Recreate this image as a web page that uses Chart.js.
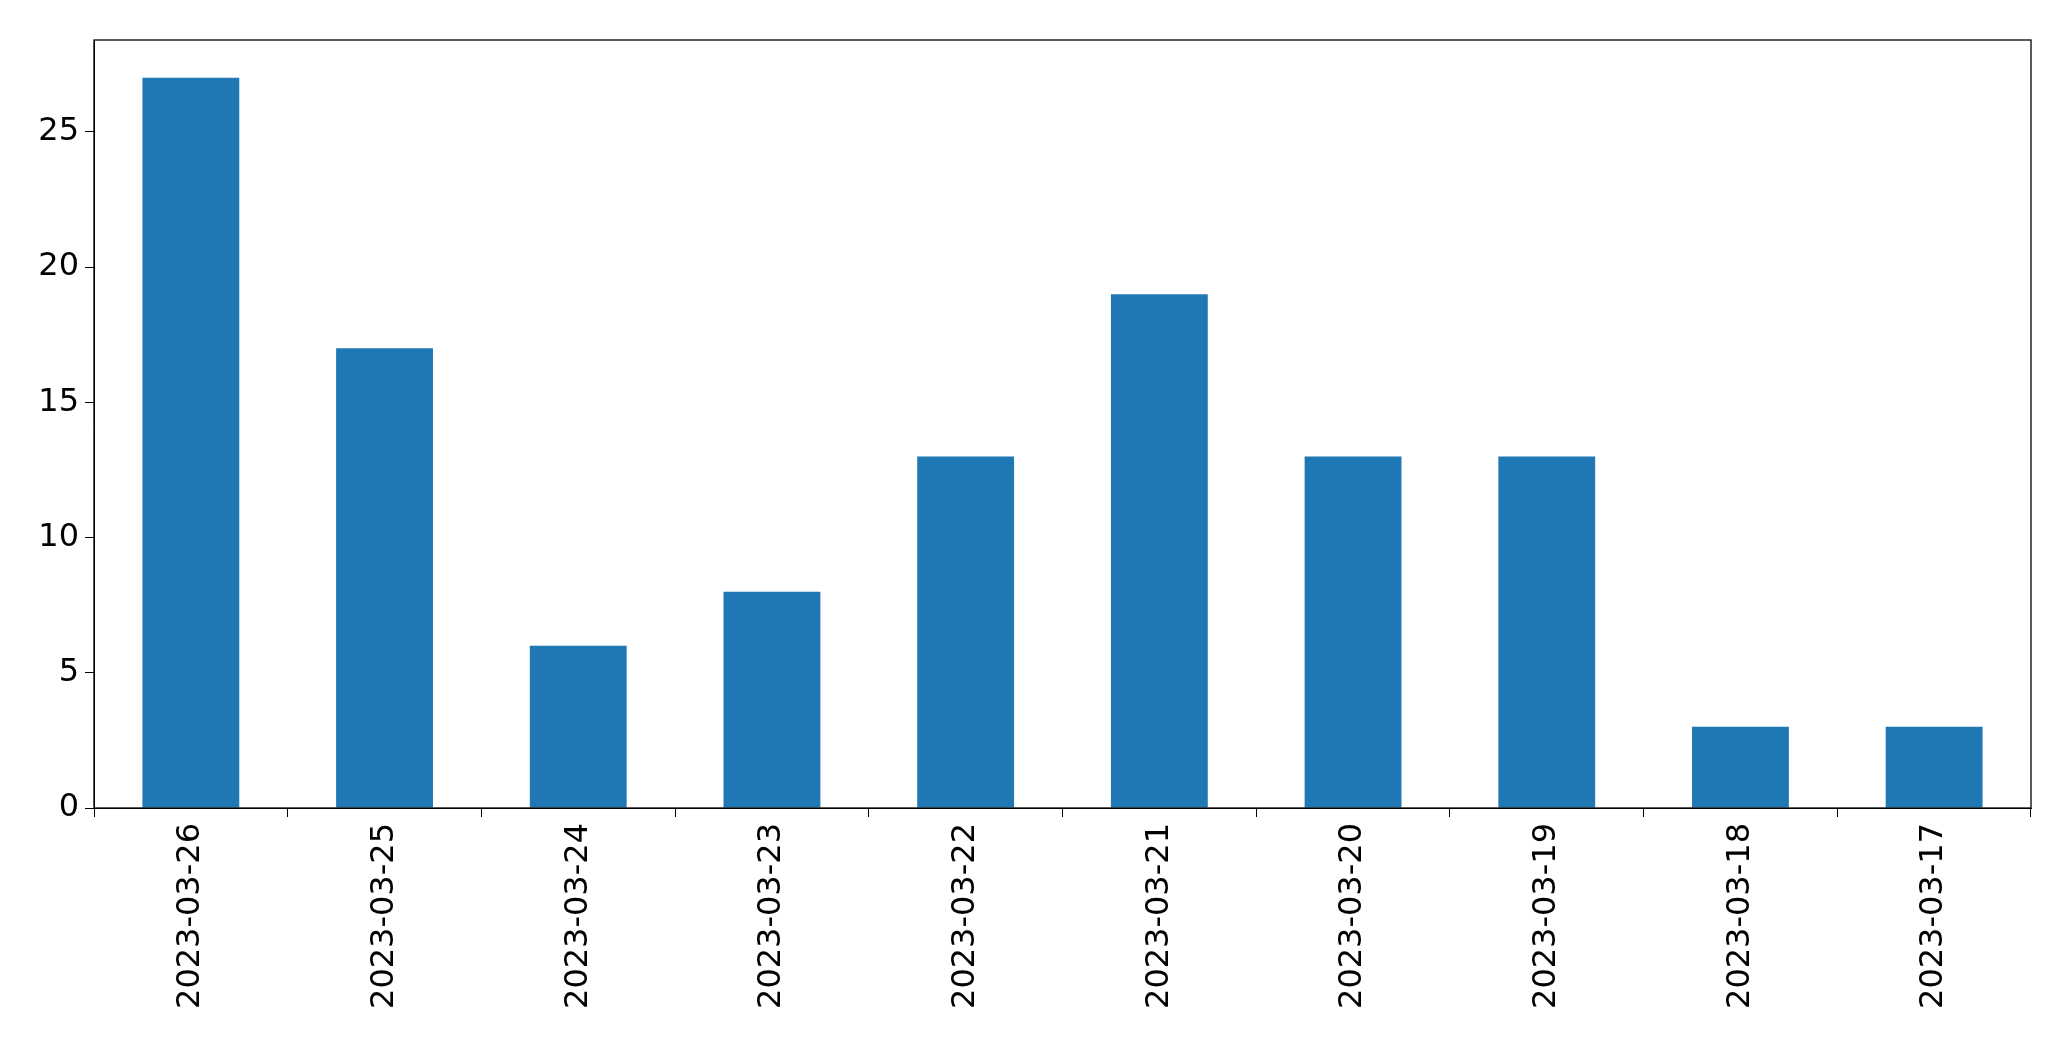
<!DOCTYPE html>
<html><head><meta charset="utf-8">
<script src="https://cdn.jsdelivr.net/npm/chart.js@4/dist/chart.umd.min.js"></script>
<style>html,body{margin:0;padding:0;background:#fff}#w{width:2071px;height:1061px}</style>
</head><body><div id="w"><canvas id="c"></canvas></div>
<script>
const categories = ["2023-03-26","2023-03-25","2023-03-24","2023-03-23","2023-03-22","2023-03-21","2023-03-20","2023-03-19","2023-03-18","2023-03-17"];
const counts = [27,17,6,8,13,19,13,13,3,3];
const yTicks = [0,5,10,15,20,25];
const frame = {id:'frame', afterDraw(ch){const a=ch.chartArea,c=ch.ctx;c.save();c.strokeStyle='#000';c.lineWidth=1.3;c.strokeRect(a.left,a.top,a.right-a.left,a.bottom-a.top);c.restore();}};
const font = {family:'"DejaVu Sans"', size:32};
new Chart(document.getElementById('c'), {
  type:'bar',
  data:{labels:categories, datasets:[{data:counts, backgroundColor:'#1f77b4', categoryPercentage:1, barPercentage:0.5}]},
  options:{responsive:true, maintainAspectRatio:false, animation:false,
    layout:{padding:{top:40,right:40,left:0,bottom:0}},
    plugins:{legend:{display:false}, tooltip:{enabled:false}},
    scales:{
      x:{grid:{display:true, drawOnChartArea:false, tickLength:9, color:'#000'}, border:{color:'#000'},
         ticks:{color:'#000', font, minRotation:90, maxRotation:90, padding:6},
         afterFit(s){s.height=253;}},
      y:{min:0, max:28.4, grid:{display:true, drawOnChartArea:false, tickLength:9, color:'#000'}, border:{color:'#000'},
         afterBuildTicks(s){s.ticks=yTicks.map(v=>({value:v}));},
         ticks:{color:'#000', font, padding:6},
         afterFit(s){s.width=94;}}
    }},
  plugins:[frame]
});
</script></body></html>
